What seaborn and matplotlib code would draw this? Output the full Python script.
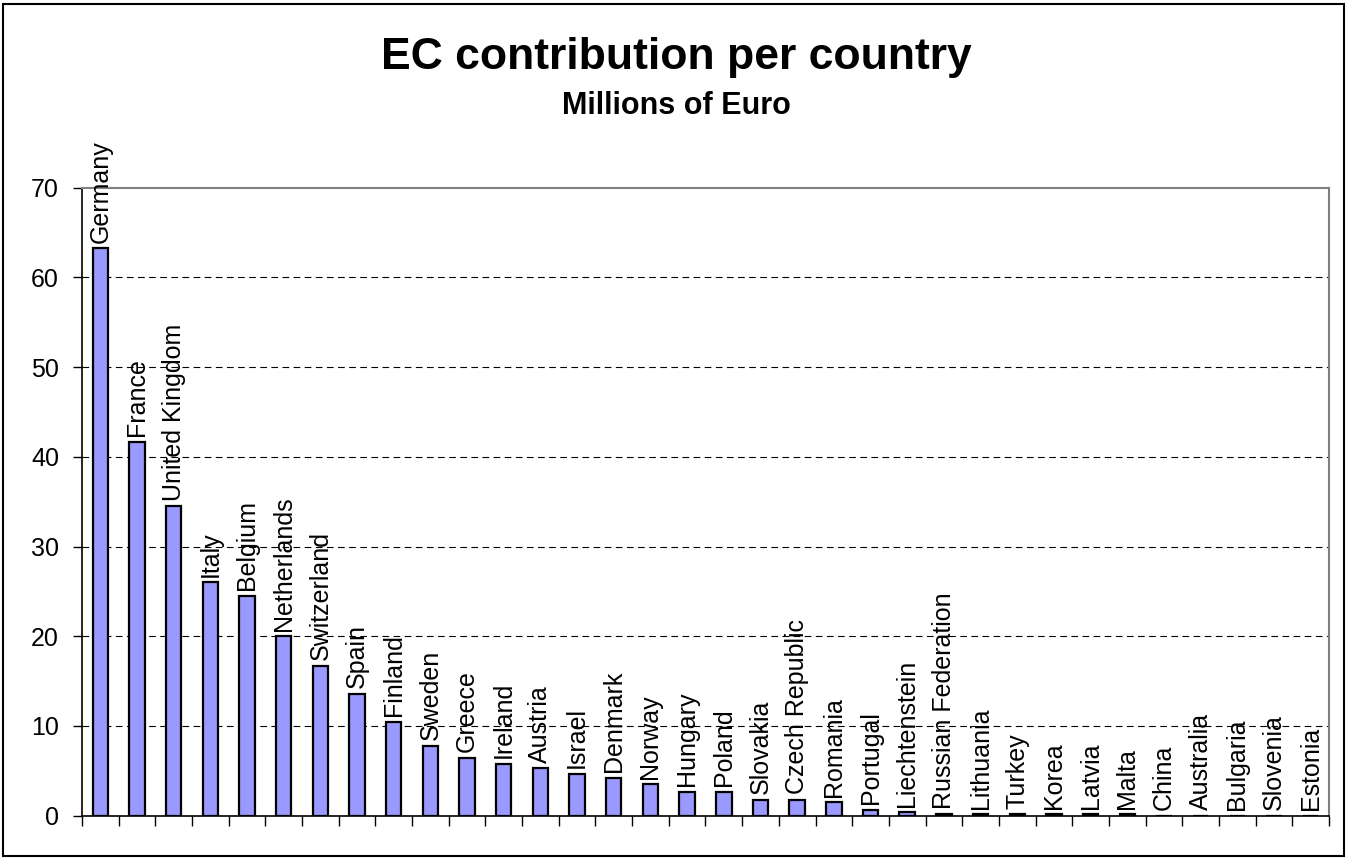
import matplotlib
matplotlib.use("Agg")
import matplotlib.pyplot as plt
import matplotlib.patches as mpatches
import seaborn as sns
import pandas as pd
import numpy as np

countries = ["Germany", "France", "United Kingdom", "Italy", "Belgium", "Netherlands",
             "Switzerland", "Spain", "Finland", "Sweden", "Greece", "Ireland", "Austria",
             "Israel", "Denmark", "Norway", "Hungary", "Poland", "Slovakia", "Czech Republic",
             "Romania", "Portugal", "Liechtenstein", "Russian Federation", "Lithuania",
             "Turkey", "Korea", "Latvia", "Malta", "China", "Australia", "Bulgaria",
             "Slovenia", "Estonia"]
values = [63.25, 41.7, 34.5, 26.0, 24.5, 20.0,
          16.7, 13.6, 10.45, 7.8, 6.45, 5.8, 5.3,
          4.65, 4.2, 3.5, 2.65, 2.65, 1.75, 1.75,
          1.5, 0.65, 0.4, 0.15, 0.15,
          0.15, 0.15, 0.15, 0.15, 0.0, 0.0, 0.0,
          0.0, 0.0]
y_ticks = [0, 10, 20, 30, 40, 50, 60, 70]

title = "EC contribution per country"
subtitle = "Millions of Euro"

sns.set_theme(style="white")
plt.rcParams["font.family"] = ["Liberation Sans", "DejaVu Sans"]
plt.rcParams["text.color"] = "black"
plt.rcParams["xtick.color"] = "black"
plt.rcParams["ytick.color"] = "black"
plt.rcParams["axes.labelcolor"] = "black"

df = pd.DataFrame({"country": countries, "value": values})

fig = plt.figure(figsize=(13.48, 8.59), dpi=100)
ax = fig.add_axes([0.0608, 0.0504, 0.9251, 0.7311])

sns.barplot(data=df, x="country", y="value", color="#9999FF", edgecolor="black",
            linewidth=1.6, width=0.42, saturation=1, ax=ax, zorder=3)

ax.set_ylim(0, 70)
ax.set_xlim(-0.5, len(countries) - 0.5)
ax.set_yticks(y_ticks)
ax.set_yticklabels([str(t) for t in y_ticks], fontsize=18, color="black")
ax.set_xticks(np.arange(len(countries) + 1) - 0.5)
ax.set_xticklabels([])
ax.set_xlabel("")
ax.set_ylabel("")

ax.tick_params(axis="y", direction="out", length=6.5, width=1, color="black", pad=10, left=True)
ax.tick_params(axis="x", direction="out", length=7.5, width=1, color="black", bottom=True)

for t in y_ticks[1:-1]:
    ax.axhline(t, color="black", linestyle=(0, (6, 4)), linewidth=0.8, zorder=1)

for side in ["left", "bottom"]:
    ax.spines[side].set_color("black")
    ax.spines[side].set_linewidth(1.2)
for side in ["top", "right"]:
    ax.spines[side].set_color("#808080")
    ax.spines[side].set_linewidth(1.5)

for i, (c, v) in enumerate(zip(countries, values)):
    ax.annotate(c, xy=(i, v), xytext=(0, 4), textcoords="offset points",
                rotation=90, ha="center", va="bottom", fontsize=18, color="black",
                annotation_clip=False, zorder=4)

fig.text(0.502, 0.933, title, ha="center", va="center", fontsize=32,
         fontweight="bold", color="black")
fig.text(0.502, 0.877, subtitle, ha="center", va="center", fontsize=22,
         fontweight="bold", color="black")

border = mpatches.Rectangle((0.002, 0.003), 0.995, 0.992, transform=fig.transFigure,
                            fill=False, edgecolor="black", linewidth=1.5)
fig.patches.append(border)

fig.savefig("out.png", dpi=100)
